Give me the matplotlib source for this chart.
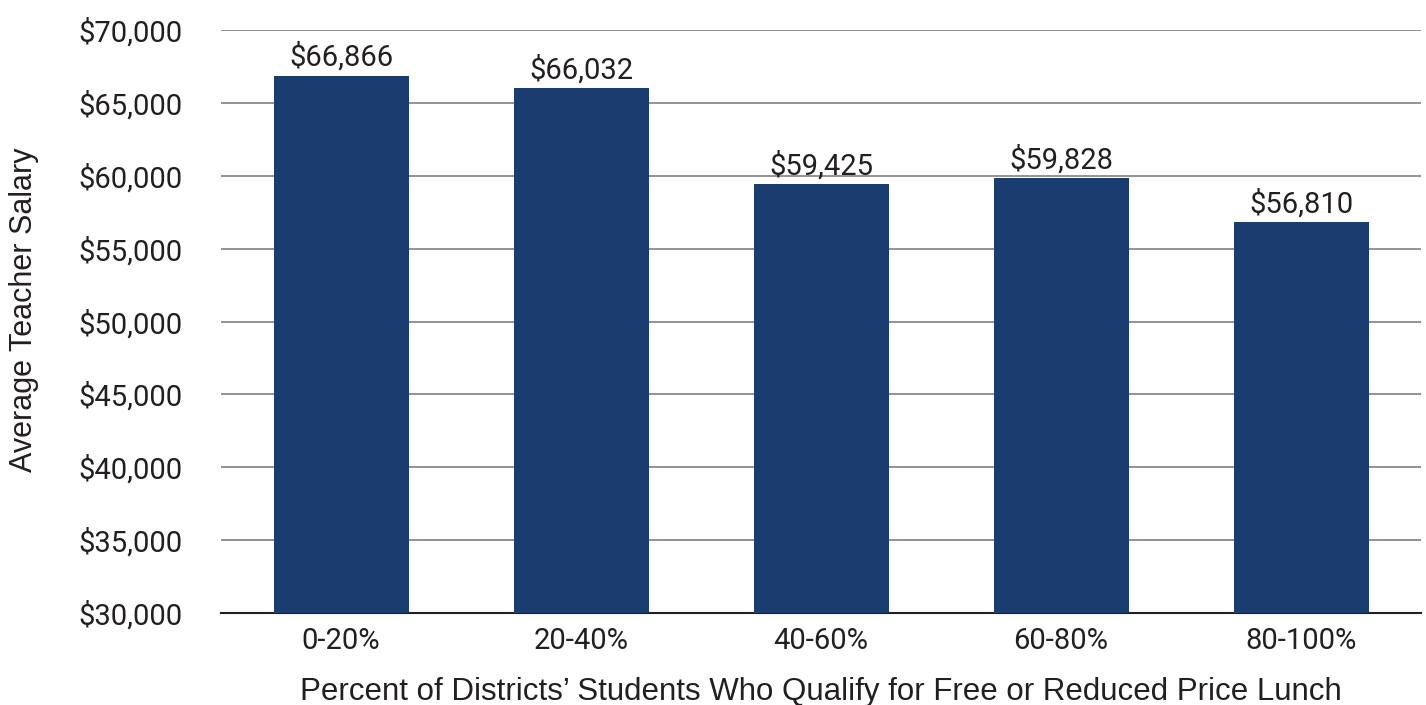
import matplotlib
matplotlib.use("Agg")
import matplotlib.pyplot as plt
from matplotlib import font_manager

categories = ["0-20%", "20-40%", "40-60%", "60-80%", "80-100%"]
salaries = [66866, 66032, 59425, 59828, 56810]
yticks = [30000, 35000, 40000, 45000, 50000, 55000, 60000, 65000, 70000]

names = {f.name for f in font_manager.fontManager.ttflist}
narrow = "Liberation Sans Narrow" if "Liberation Sans Narrow" in names else "Roboto"
plain = "Liberation Sans"

fig = plt.figure(figsize=(14.26, 7.05), dpi=100)
ax = fig.add_axes([0.155, 0.1305, 0.8415, 0.8269])

x = range(len(categories))
ax.bar(x, salaries, width=0.5625, color="#1b3c6f", zorder=3)
for xi, v in zip(x, salaries):
    ax.text(xi, v + 250, "${:,}".format(v), ha="center", va="bottom",
            fontsize=21, family=narrow, color="#231f20")

ax.set_xlim(-0.5, len(categories) - 0.5)
ax.set_ylim(30000, 70000)
ax.set_yticks(yticks)
ax.set_yticklabels(["${:,}".format(t) for t in yticks], family=narrow, fontsize=21, color="#231f20")
ax.set_xticks(list(x))
ax.set_xticklabels(categories, family=narrow, fontsize=21, color="#231f20")
ax.tick_params(length=0, pad=10)
ax.tick_params(axis="y", pad=28)

ax.grid(axis="y", color="#8a8a8a", linewidth=1.3, zorder=0)
for s in ["top", "right", "left"]:
    ax.spines[s].set_visible(False)
ax.spines["bottom"].set_color("#231f20")
ax.spines["bottom"].set_linewidth(1.5)

ax.set_xlabel("Percent of Districts\u2019 Students Who Qualify for Free or Reduced Price Lunch",
              family=plain, fontsize=22.5, color="#231f20", labelpad=16)
ax.set_ylabel("Average Teacher Salary", family=plain, fontsize=22, color="#231f20")
ax.yaxis.set_label_coords(-0.152, 0.52)

fig.savefig("out.png", dpi=100)
